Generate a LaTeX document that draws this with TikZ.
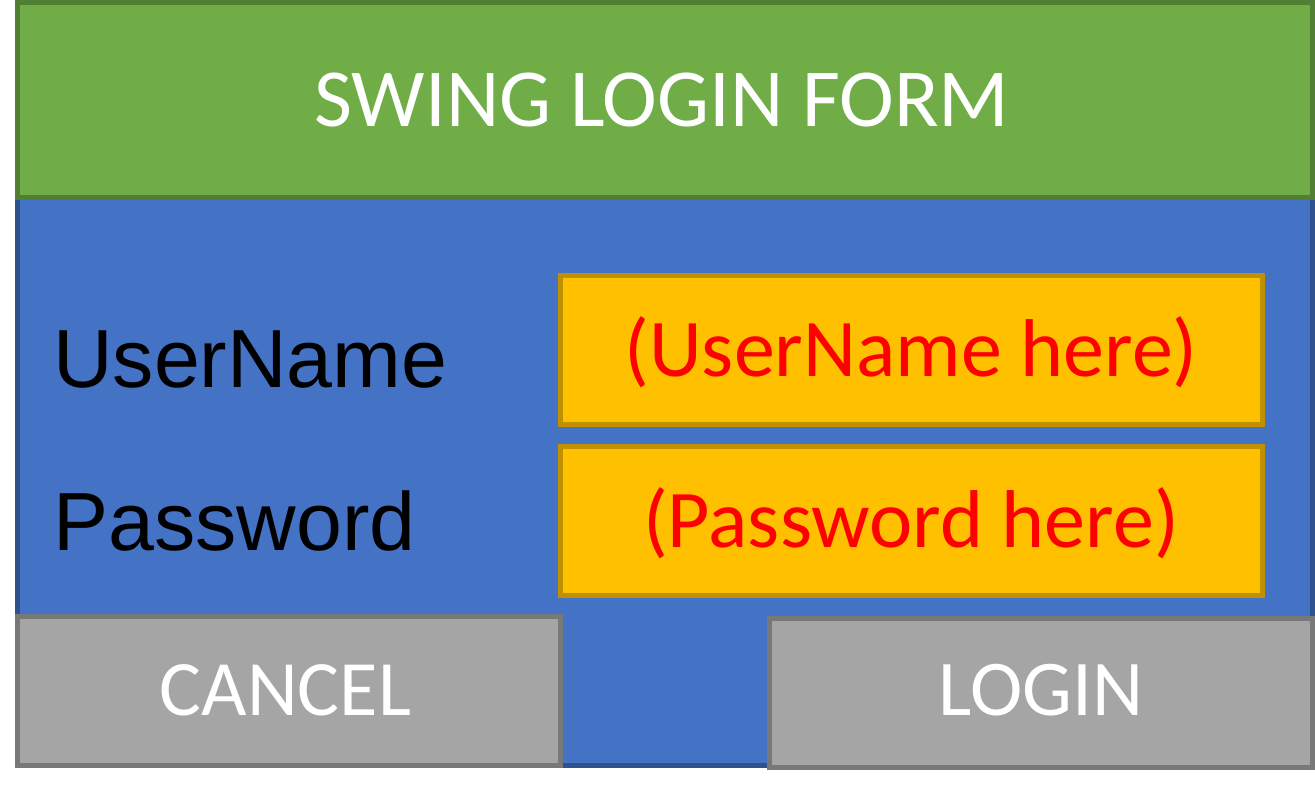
\documentclass[tikz,border=0pt]{standalone}
\usepackage{fontspec}
\setmainfont{Carlito}
\newfontfamily\arialfont{Liberation Sans}
\definecolor{hdrfill}{HTML}{70AD47}
\definecolor{hdrline}{HTML}{507E32}
\definecolor{bodyfill}{HTML}{4472C4}
\definecolor{bodyline}{HTML}{2F528F}
\definecolor{fieldfill}{HTML}{FFC000}
\definecolor{fieldline}{HTML}{BF9000}
\definecolor{btnfill}{HTML}{A5A5A5}
\definecolor{btnline}{HTML}{787878}
\definecolor{phred}{HTML}{FF0000}
\tikzset{
  panel/.style={rectangle, draw, line width=5pt, inner sep=0pt, outer sep=0pt},
  hdrbox/.style={panel, fill=hdrfill, draw=hdrline},
  bodybox/.style={panel, fill=bodyfill, draw=bodyline},
  fieldbox/.style={panel, fill=fieldfill, draw=fieldline},
  btnbox/.style={panel, fill=btnfill, draw=btnline},
  calitext/.style={inner sep=0pt, anchor=base, font=\fontsize{82}{90}\selectfont},
  lbltext/.style={inner sep=0pt, anchor=base west, font=\arialfont\fontsize{82.5}{94}\selectfont, text=black},
}
\begin{document}
\begin{tikzpicture}[x=1pt,y=-1pt]
\useasboundingbox (0,0) rectangle (1315,792);
\fill[white] (0,0) rectangle (1315,792);
% body panel
\node[bodybox, minimum width=1295pt, minimum height=568pt] (body) at (665,481.5) {};
% header
\node[hdrbox, minimum width=1295pt, minimum height=195pt] (hdr) at (665,100) {};
% fields
\node[fieldbox, minimum width=702pt, minimum height=149pt] (userfield) at (911.5,350) {};
\node[fieldbox, minimum width=702pt, minimum height=148.5pt] (passfield) at (911.5,520.75) {};
% buttons
\node[btnbox, minimum width=543pt, minimum height=149pt] (cancel) at (289,691) {};
\node[btnbox, minimum width=543pt, minimum height=149pt] (login) at (1041,693) {};
% texts
\node[calitext, text=white, font=\fontsize{82.5}{90}\selectfont] (title) at (662,126.7) {SWING LOGIN FORM};
\node[lbltext] (userlbl) at (53,387.3) {UserName};
\node[lbltext] (passlbl) at (53,550) {Password};
\node[calitext, text=phred] (userph) at (911,376.7) {(UserName here)};
\node[calitext, text=phred] (passph) at (911,547.3) {(Password here)};
\node[calitext, text=white, font=\fontsize{78.5}{90}\selectfont] (canceltxt) at (285.5,715) {CANCEL};
\node[calitext, text=white, font=\fontsize{79}{90}\selectfont] (logintxt) at (1041,715.7) {LOGIN};
\end{tikzpicture}
\end{document}
